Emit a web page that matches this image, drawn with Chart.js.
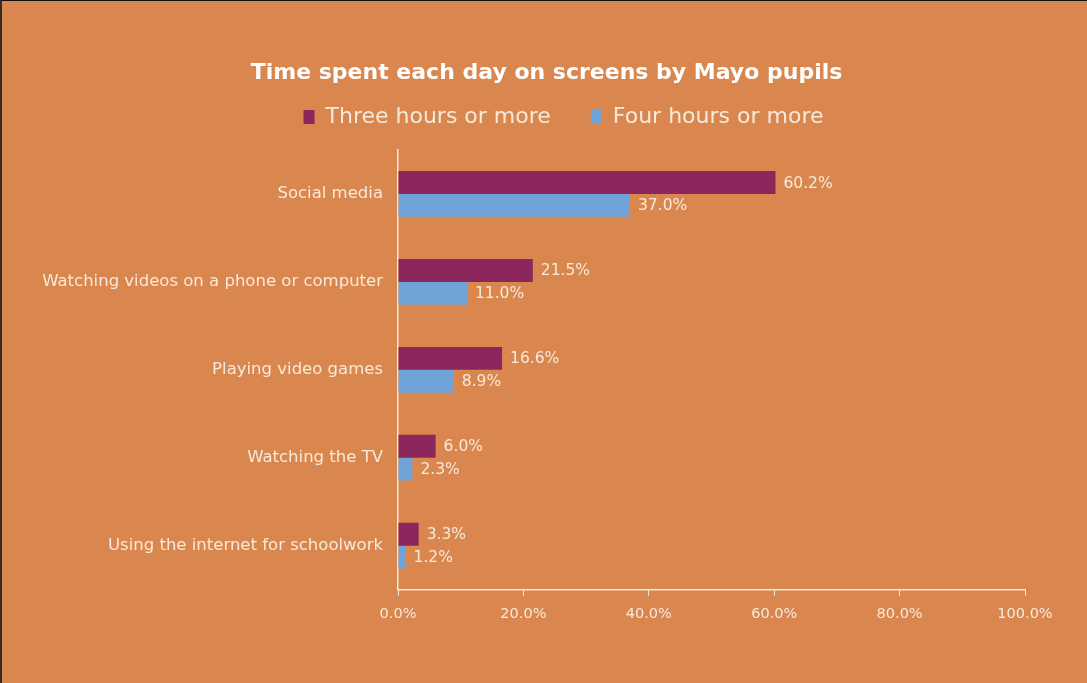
<!DOCTYPE html>
<html><head><meta charset="utf-8">
<script src="https://cdn.jsdelivr.net/npm/chart.js@4.4.1/dist/chart.umd.min.js"></script>
<style>
html,body{margin:0;padding:0;background:#D9874F;overflow:hidden}
#wrap{width:1087px;height:683px;position:relative;background:#D9874F;box-sizing:border-box;border-top:1px solid #111;border-left:2px solid #3a2a25}
</style>
</head><body><div id="wrap"><canvas id="c" width="1085" height="682"></canvas></div>
<script>
const categories = ["Social media","Watching videos on a phone or computer","Playing video games","Watching the TV","Using the internet for schoolwork"];
const threeHoursOrMore = [60.2, 21.5, 16.6, 6.0, 3.3];
const fourHoursOrMore = [37.0, 11.0, 8.9, 2.3, 1.2];
const seriesNames = ["Three hours or more", "Four hours or more"];
const xTicks = [0, 20, 40, 60, 80, 100];

const FONT = "'DejaVu Sans', sans-serif";
const CREAM = "#F8E9DA";

const valueLabels = {
  id: 'valueLabels',
  afterDatasetsDraw(chart) {
    const ctx = chart.ctx;
    ctx.save();
    ctx.font = "15.5px " + FONT;
    ctx.fillStyle = CREAM;
    ctx.textBaseline = 'middle';
    ctx.textAlign = 'left';
    chart.data.datasets.forEach((ds, i) => {
      const meta = chart.getDatasetMeta(i);
      meta.data.forEach((el, j) => {
        ctx.fillText(ds.data[j].toFixed(1) + '%', el.x + 8, el.y + 1);
      });
    });
    ctx.restore();
  }
};

const headerShift = {
  id: 'headerShift',
  afterLayout(chart) {
    const tb = chart.titleBlock;
    if (tb) { tb.left += 33; tb.right += 33; }
    const lg = chart.legend;
    if (lg) {
      lg.left += 50; lg.right += 50;
      lg.top -= 12; lg.bottom -= 12;
    }
  }
};

new Chart(document.getElementById('c'), {
  type: 'bar',
  data: {
    labels: categories,
    datasets: [
      { label: seriesNames[0], data: threeHoursOrMore, backgroundColor: '#8B275C', barPercentage: 1.0, categoryPercentage: 0.52 },
      { label: seriesNames[1], data: fourHoursOrMore, backgroundColor: '#70A3D8', barPercentage: 1.0, categoryPercentage: 0.52 }
    ]
  },
  options: {
    indexAxis: 'y',
    responsive: false,
    animation: false,
    layout: { padding: { left: 0, right: 62, top: 0, bottom: 50 } },
    plugins: {
      title: {
        display: true,
        text: "Time spent each day on screens by Mayo pupils",
        color: '#FFFFFF',
        font: { family: FONT, size: 22, weight: 'bold' },
        padding: { top: 59, bottom: -8.4 }
      },
      legend: {
        display: true,
        position: 'top',
        labels: {
          color: CREAM,
          font: { family: FONT, size: 22 },
          boxWidth: 11,
          boxHeight: 14,
          padding: 40
        }
      },
      tooltip: { enabled: false }
    },
    scales: {
      x: {
        min: 0, max: 100,
        afterBuildTicks(scale) { scale.ticks = xTicks.map(v => ({ value: v })); },
        grid: { drawOnChartArea: false, drawTicks: true, tickLength: 6, color: CREAM },
        border: { display: true, color: CREAM, width: 1.5 },
        ticks: { color: CREAM, font: { family: FONT, size: 14.5 }, padding: 10, callback: v => Number(v).toFixed(1) + '%' }
      },
      y: {
        afterFit(scale) { scale.width = 396; },
        grid: { display: false, drawTicks: false },
        border: { display: true, color: CREAM, width: 1.5 },
        ticks: { color: CREAM, font: { family: FONT, size: 16.5 }, padding: 15 }
      }
    }
  },
  plugins: [valueLabels, headerShift]
});
</script>
</body></html>
